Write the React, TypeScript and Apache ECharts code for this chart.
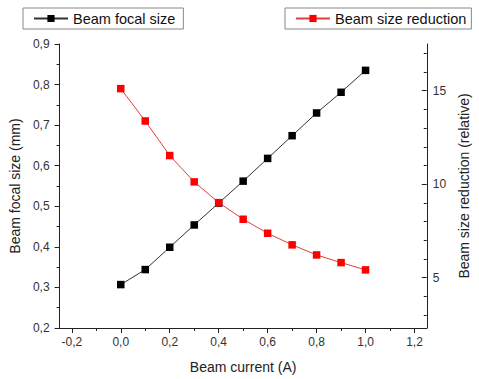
import React, { useEffect, useRef } from 'react';
import * as echarts from 'echarts';

const currents = [0.0, 0.1, 0.2, 0.3, 0.4, 0.5, 0.6, 0.7, 0.8, 0.9, 1.0];
const focalSize = [0.307, 0.344, 0.399, 0.454, 0.508, 0.562, 0.618, 0.674, 0.73, 0.781, 0.835];
const sizeReduction = [15.11, 13.38, 11.53, 10.12, 9.01, 8.12, 7.37, 6.75, 6.21, 5.8, 5.41];
const xTicks = [-0.2, 0, 0.2, 0.4, 0.6, 0.8, 1.0, 1.2];
const xMinorTicks = [-0.1, 0.1, 0.3, 0.5, 0.7, 0.9, 1.1];
const rightTicks = [5, 10, 15];
const rightMinorTicks = [3, 4, 6, 7, 8, 9, 11, 12, 13, 14, 16, 17];

const FONT = '"Liberation Sans", Arial, sans-serif';
const AX = '#222';
const comma = (v: number) => Number(v).toFixed(1).replace('.', ',');

export default function App() {
  const ref = useRef<HTMLDivElement>(null);
  useEffect(() => {
    if (!ref.current) return;
    const chart = echarts.init(ref.current, undefined, { renderer: 'svg' });
    const xMin = -0.25, xMax = 1.25, yMin = 0.2, yMax = 0.9, rMin = 2.3, rMax = 17.5;
    chart.setOption({
      animation: false,
      textStyle: { fontFamily: FONT },
      grid: { left: 58, top: 44, width: 383, height: 284, containLabel: false },
      legend: [
        {
          data: ['Beam focal size'], left: 23, top: 8,
          borderColor: '#888', borderWidth: 1, padding: [3, 8, 3, 10],
          itemWidth: 34, itemHeight: 9, backgroundColor: '#fff',
          textStyle: { fontSize: 14.5, color: '#111', fontFamily: FONT },
        },
        {
          data: ['Beam size reduction'], left: 285, top: 8,
          borderColor: '#888', borderWidth: 1, padding: [3, 5, 3, 10],
          itemWidth: 34, itemHeight: 9, backgroundColor: '#fff',
          textStyle: { fontSize: 14.5, color: '#111', fontFamily: FONT },
        },
      ],
      xAxis: [
        {
          type: 'value', min: xMin, max: xMax, position: 'bottom',
          name: 'Beam current (A)', nameLocation: 'middle', nameGap: 32,
          nameTextStyle: { fontSize: 14, color: AX, fontFamily: FONT },
          axisLine: { show: true, onZero: false, lineStyle: { color: AX, width: 1 } },
          axisTick: { show: true, length: 5, customValues: xTicks, lineStyle: { color: AX } },
          axisLabel: { customValues: xTicks, formatter: comma, fontSize: 12, color: '#333', margin: 8, fontFamily: FONT },
          splitLine: { show: false },
        },
        {
          type: 'value', min: xMin, max: xMax, position: 'bottom',
          axisLine: { show: false, onZero: false },
          axisTick: { show: true, length: 3, customValues: xMinorTicks, lineStyle: { color: AX } },
          axisLabel: { show: false },
          splitLine: { show: false },
        },
      ],
      yAxis: [
        {
          type: 'value', min: yMin, max: yMax, interval: 0.1, position: 'left',
          name: 'Beam focal size (mm)', nameLocation: 'middle', nameGap: 33,
          nameTextStyle: { fontSize: 14, color: AX, fontFamily: FONT },
          axisLine: { show: true, onZero: false, lineStyle: { color: AX, width: 1 } },
          axisTick: { show: true, length: 5, lineStyle: { color: AX } },
          minorTick: { show: true, splitNumber: 2, length: 3, lineStyle: { color: AX } },
          axisLabel: { formatter: comma, fontSize: 12, color: '#333', margin: 10, fontFamily: FONT },
          splitLine: { show: false },
        },
        {
          type: 'value', min: rMin, max: rMax, position: 'right',
          name: 'Beam size reduction (relative)', nameLocation: 'middle', nameGap: 25,
          nameTextStyle: { fontSize: 14, color: AX, fontFamily: FONT },
          axisLine: { show: true, onZero: false, lineStyle: { color: AX, width: 1 } },
          axisTick: { show: true, inside: true, length: 5, customValues: rightTicks, lineStyle: { color: AX } },
          axisLabel: { customValues: rightTicks, fontSize: 12, color: '#333', margin: 6, fontFamily: FONT },
          splitLine: { show: false },
        },
        {
          type: 'value', min: rMin, max: rMax, position: 'right',
          axisLine: { show: false, onZero: false },
          axisTick: { show: true, inside: true, length: 3, customValues: rightMinorTicks, lineStyle: { color: AX } },
          axisLabel: { show: false },
          splitLine: { show: false },
        },
      ],
      series: [
        {
          name: 'Beam focal size', type: 'line', xAxisIndex: 0, yAxisIndex: 0,
          data: currents.map((x, i) => [x, focalSize[i]]),
          symbol: 'rect', symbolSize: 7.5,
          lineStyle: { color: '#333', width: 1 },
          itemStyle: { color: '#000' },
        },
        {
          name: 'Beam size reduction', type: 'line', xAxisIndex: 0, yAxisIndex: 1,
          data: currents.map((x, i) => [x, sizeReduction[i]]),
          symbol: 'rect', symbolSize: 7.5,
          lineStyle: { color: '#e0403c', width: 1 },
          itemStyle: { color: '#ff0000' },
        },
      ],
    });
    return () => chart.dispose();
  }, []);
  return <div ref={ref} style={{ position: 'fixed', left: 0, top: 0, width: 479, height: 379, background: '#fff' }} />;
}
